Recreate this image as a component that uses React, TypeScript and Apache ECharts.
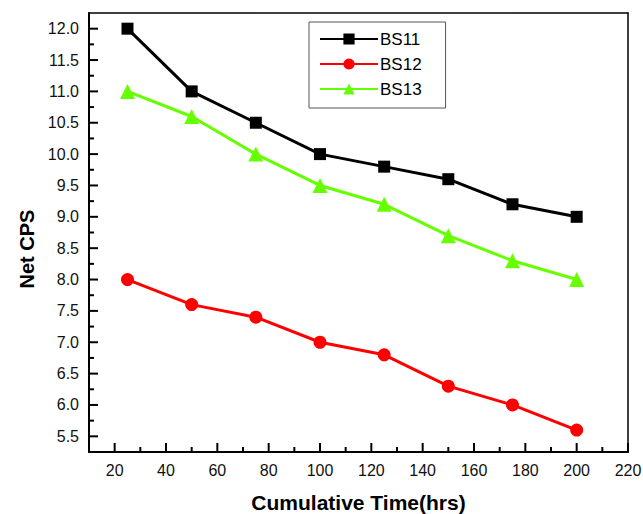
import React, { useEffect, useRef } from "react";
import * as echarts from "echarts";

const xValues = [25, 50, 75, 100, 125, 150, 175, 200];
const bs11 = [12.0, 11.0, 10.5, 10.0, 9.8, 9.6, 9.2, 9.0];
const bs12 = [8.0, 7.6, 7.4, 7.0, 6.8, 6.3, 6.0, 5.6];
const bs13 = [11.0, 10.6, 10.0, 9.5, 9.2, 8.7, 8.3, 8.0];
const seriesNames = ["BS11", "BS12", "BS13"];

const xMajorTicks = [20, 40, 60, 80, 100, 120, 140, 160, 180, 200, 220];
const xMinorTicks = [30, 50, 70, 90, 110, 130, 150, 170, 190, 210];
const yMajorTicks = [5.5, 6.0, 6.5, 7.0, 7.5, 8.0, 8.5, 9.0, 9.5, 10.0, 10.5, 11.0, 11.5, 12.0];
const yMinorTicks = [5.75, 6.25, 6.75, 7.25, 7.75, 8.25, 8.75, 9.25, 9.75, 10.25, 10.75, 11.25, 11.75];

const X_MIN = 10;
const X_MAX = 220;
const Y_MIN = 5.25;
const Y_MAX = 12.25;

const FONT = "Arial, 'Liberation Sans', sans-serif";

export default function App() {
  const ref = useRef<HTMLDivElement>(null);
  useEffect(() => {
    if (!ref.current) return;
    const chart = echarts.init(ref.current, undefined, { renderer: "svg" });
    const pair = (ys: number[]) => xValues.map((x, i) => [x, ys[i]]);
    const borderAxis = {
      type: "value",
      axisLine: { show: true, onZero: false, lineStyle: { color: "#000", width: 1.5 } },
      axisTick: { show: false },
      minorTick: { show: false },
      axisLabel: { show: false },
      splitLine: { show: false },
    };
    const tickData = [
      ...xMajorTicks.map((v) => [v, Y_MIN, 0, 9]),
      ...xMinorTicks.map((v) => [v, Y_MIN, 0, 5]),
      ...yMajorTicks.map((v) => [X_MIN, v, 1, 9]),
      ...yMinorTicks.map((v) => [X_MIN, v, 1, 5]),
    ];
    chart.setOption({
      animation: false,
      backgroundColor: "#ffffff",
      grid: {
        left: 89,
        right: 15,
        top: 13,
        bottom: 62,
        containLabel: false,
        outerBoundsMode: "none",
      },
      legend: {
        left: 309,
        top: 22,
        orient: "vertical",
        data: seriesNames,
        itemWidth: 58,
        itemHeight: 14,
        itemGap: 7,
        padding: [8, 24, 10, 10],
        borderColor: "#555",
        borderWidth: 1,
        textStyle: { fontFamily: FONT, fontSize: 17, color: "#000", lineHeight: 18, padding: [0, 0, 0, -3] },
      },
      xAxis: [
        {
          type: "value",
          min: X_MIN,
          max: X_MAX,
          splitNumber: 10,
          position: "bottom",
          name: "Cumulative Time(hrs)",
          nameLocation: "middle",
          nameGap: 40,
          nameTextStyle: { fontFamily: FONT, fontSize: 21, fontWeight: "bold", color: "#000" },
          axisLine: { show: true, onZero: false, lineStyle: { color: "#000", width: 2 } },
          axisTick: { show: false },
          minorTick: { show: false },
          axisLabel: { showMinLabel: false, fontFamily: FONT, fontSize: 16, color: "#111", margin: 10 },
          splitLine: { show: false },
        },
        { ...borderAxis, min: X_MIN, max: X_MAX, position: "top" },
      ],
      yAxis: [
        {
          type: "value",
          min: Y_MIN,
          max: Y_MAX,
          splitNumber: 14,
          position: "left",
          axisLine: { show: true, onZero: false, lineStyle: { color: "#000", width: 2 } },
          axisTick: { show: false },
          minorTick: { show: false },
          axisLabel: {
            showMinLabel: false,
            showMaxLabel: false,
            fontFamily: FONT,
            fontSize: 16,
            color: "#111",
            margin: 10,
            formatter: (v: number) => v.toFixed(1),
          },
          splitLine: { show: false },
        },
        { ...borderAxis, min: Y_MIN, max: Y_MAX, position: "right" },
      ],
      graphic: [
        {
          type: "text",
          x: 27,
          y: 249,
          rotation: Math.PI / 2,
          style: {
            text: "Net CPS",
            fontFamily: FONT,
            fontSize: 20,
            fontWeight: "bold",
            fill: "#000",
            align: "center",
            verticalAlign: "middle",
          },
        },
      ],
      series: [
        {
          name: "ticks",
          type: "custom",
          xAxisIndex: 0,
          yAxisIndex: 0,
          silent: true,
          clip: false,
          z: 1,
          data: tickData,
          renderItem: (params: any, api: any) => {
            const x = api.value(0);
            const y = api.value(1);
            const kind = api.value(2);
            const len = api.value(3);
            const p = api.coord([x, y]);
            const shape =
              kind === 0
                ? { x1: p[0], y1: p[1], x2: p[0], y2: p[1] - len }
                : { x1: p[0], y1: p[1], x2: p[0] + len, y2: p[1] };
            return { type: "line", shape, style: { stroke: "#000", lineWidth: 2 } };
          },
        },
        {
          name: seriesNames[0],
          type: "line",
          data: pair(bs11),
          symbol: "rect",
          symbolSize: 12,
          color: "#000000",
          lineStyle: { width: 3, color: "#000000" },
          itemStyle: { color: "#000000" },
        },
        {
          name: seriesNames[1],
          type: "line",
          data: pair(bs12),
          symbol: "circle",
          symbolSize: 13,
          color: "#ff0000",
          lineStyle: { width: 3, color: "#ff0000" },
          itemStyle: { color: "#ff0000" },
        },
        {
          name: seriesNames[2],
          type: "line",
          data: pair(bs13),
          symbol: "triangle",
          symbolSize: 15,
          color: "#66ff00",
          lineStyle: { width: 3, color: "#66ff00" },
          itemStyle: { color: "#66ff00" },
        },
      ],
    });
    return () => chart.dispose();
  }, []);
  return (
    <div
      ref={ref}
      style={{ position: "fixed", left: 0, top: 0, width: 643, height: 514, background: "#fff" }}
    />
  );
}
